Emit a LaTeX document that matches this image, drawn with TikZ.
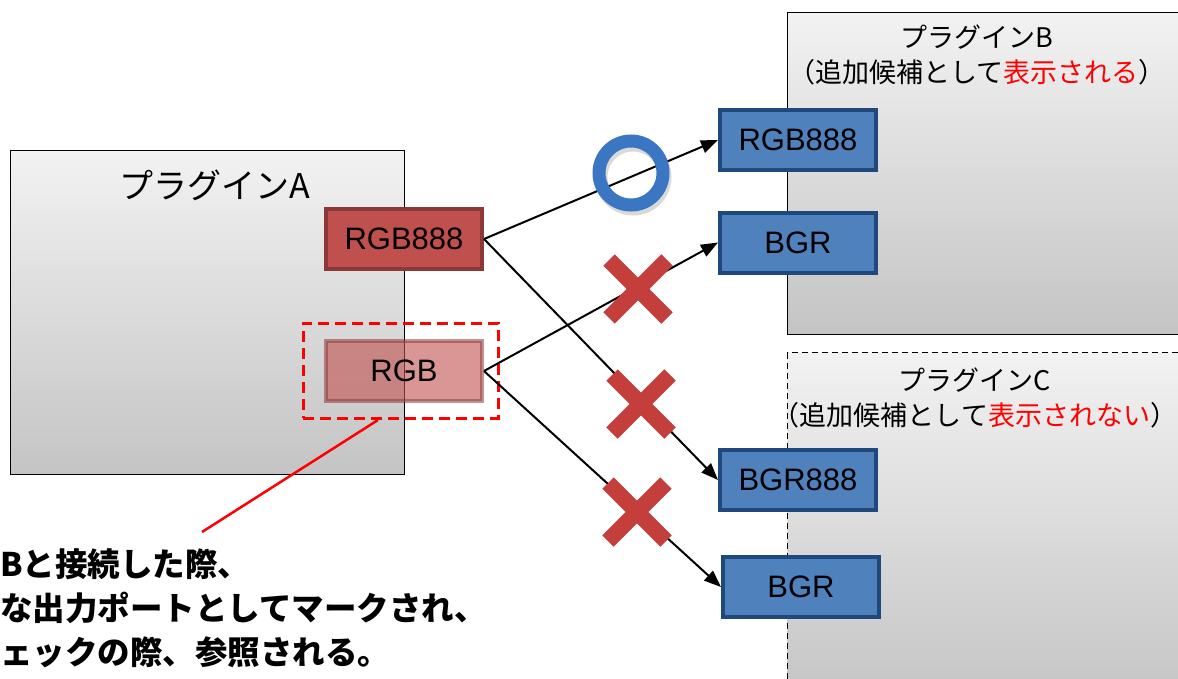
\documentclass[tikz,border=0pt]{standalone}
\usepackage{fontspec}
\setmainfont{Liberation Sans}
\newfontfamily\jp{Noto Sans CJK JP}
\usetikzlibrary{arrows.meta}
\definecolor{gtop}{HTML}{F2F2F2}
\definecolor{gbot}{HTML}{C4C4C4}
\definecolor{rfill}{HTML}{C0504D}
\definecolor{rline}{HTML}{8C3836}
\definecolor{bfill}{HTML}{4F81BD}
\definecolor{bline}{HTML}{1F497D}
\definecolor{ocol}{HTML}{3A76C2}
\definecolor{xcol}{HTML}{C43E3B}
\tikzset{
  plug/.style={draw=black, line width=1.4, top color=gtop, bottom color=gbot, inner sep=0},
  rbox/.style={draw=rline, fill=rfill, line width=4, minimum width=156, minimum height=60, inner sep=0, font=\fontsize{31}{34}\selectfont},
  bbox/.style={draw=bline, fill=bfill, line width=4, minimum width=156, minimum height=60, inner sep=0, font=\fontsize{31}{34}\selectfont},
  arr/.style={draw=black, line width=2, -{Triangle[length=17,width=13]}},
  ttl/.style={font=\jp\fontsize{27}{35}\selectfont, align=center, inner sep=0},
  note/.style={font=\jp\bfseries\fontsize{32.5}{40}\selectfont, anchor=base west, inner sep=0},
  xmark/.style={draw=xcol, line width=16},
}
\begin{document}
\begin{tikzpicture}[x=1pt,y=-1pt]
\useasboundingbox (0,0) rectangle (1178,678);
\clip (0,0) rectangle (1178,678);
% plugin boxes
\node[plug, anchor=north west, minimum width=394, minimum height=324] (pa) at (10,150) {};
\node[plug, anchor=north west, minimum width=430, minimum height=322] (pb) at (787,12) {};
\node[plug, dashed, dash pattern=on 6 off 4, anchor=north west, minimum width=430, minimum height=350] (pc) at (787,352) {};
% titles
\node[font=\jp\fontsize{34}{36}\selectfont, inner sep=0] (ta) at (215,185) {プラグインA};
\node[ttl] (tb) at (977,55) {プラグインB\\（追加候補として\textcolor{red}{表示される}）};
\node[ttl] (tc) at (975,398) {プラグインC\\（追加候補として\textcolor{red}{表示されない}）};
% output ports of A
\node[rbox] (r888) at (404,239) {RGB888};
\node[rbox, fill opacity=0.6, draw opacity=0.55, text opacity=1] (rgb) at (404,371) {RGB};
\node[draw=red, line width=3, dash pattern=on 11 off 6, minimum width=195, minimum height=95, inner sep=0] (sel) at (400.5,370.5) {};
% input ports
\node[bbox] (b888) at (798,140) {RGB888};
\node[bbox] (bbgr) at (798,242.5) {BGR};
\node[bbox] (c888) at (798,480) {BGR888};
\node[bbox] (cbgr) at (801,587) {BGR};
% connectors
\draw[arr] (r888.east) -- (b888.west);
\draw[arr] (r888.east) -- (c888.west);
\draw[arr] (rgb.east) -- (bbgr.west);
\draw[arr] (rgb.east) -- (cbgr.west);
% marks
\draw[line width=13, black, opacity=0.15] (633,177) circle[radius=32];
\draw[line width=13, ocol] (631,173) circle[radius=32];
\foreach \cx/\cy in {638/289, 641/404, 637/512} {
  \draw[xmark] (\cx-29,\cy-29) -- (\cx+29,\cy+29);
  \draw[xmark] (\cx-29,\cy+29) -- (\cx+29,\cy-29);
}
% callout
\coordinate (cs) at (378,420);
\coordinate (ce) at (202,532);
\draw[red, line width=2.5] (cs) -- (ce);
\node[note] (n1) at (0,576) {Bと接続した際、};
\node[note] (n2) at (0,620) {な出力ポートとしてマークされ、};
\node[note] (n3) at (0,664) {ェックの際、参照される。};
\end{tikzpicture}
\end{document}
